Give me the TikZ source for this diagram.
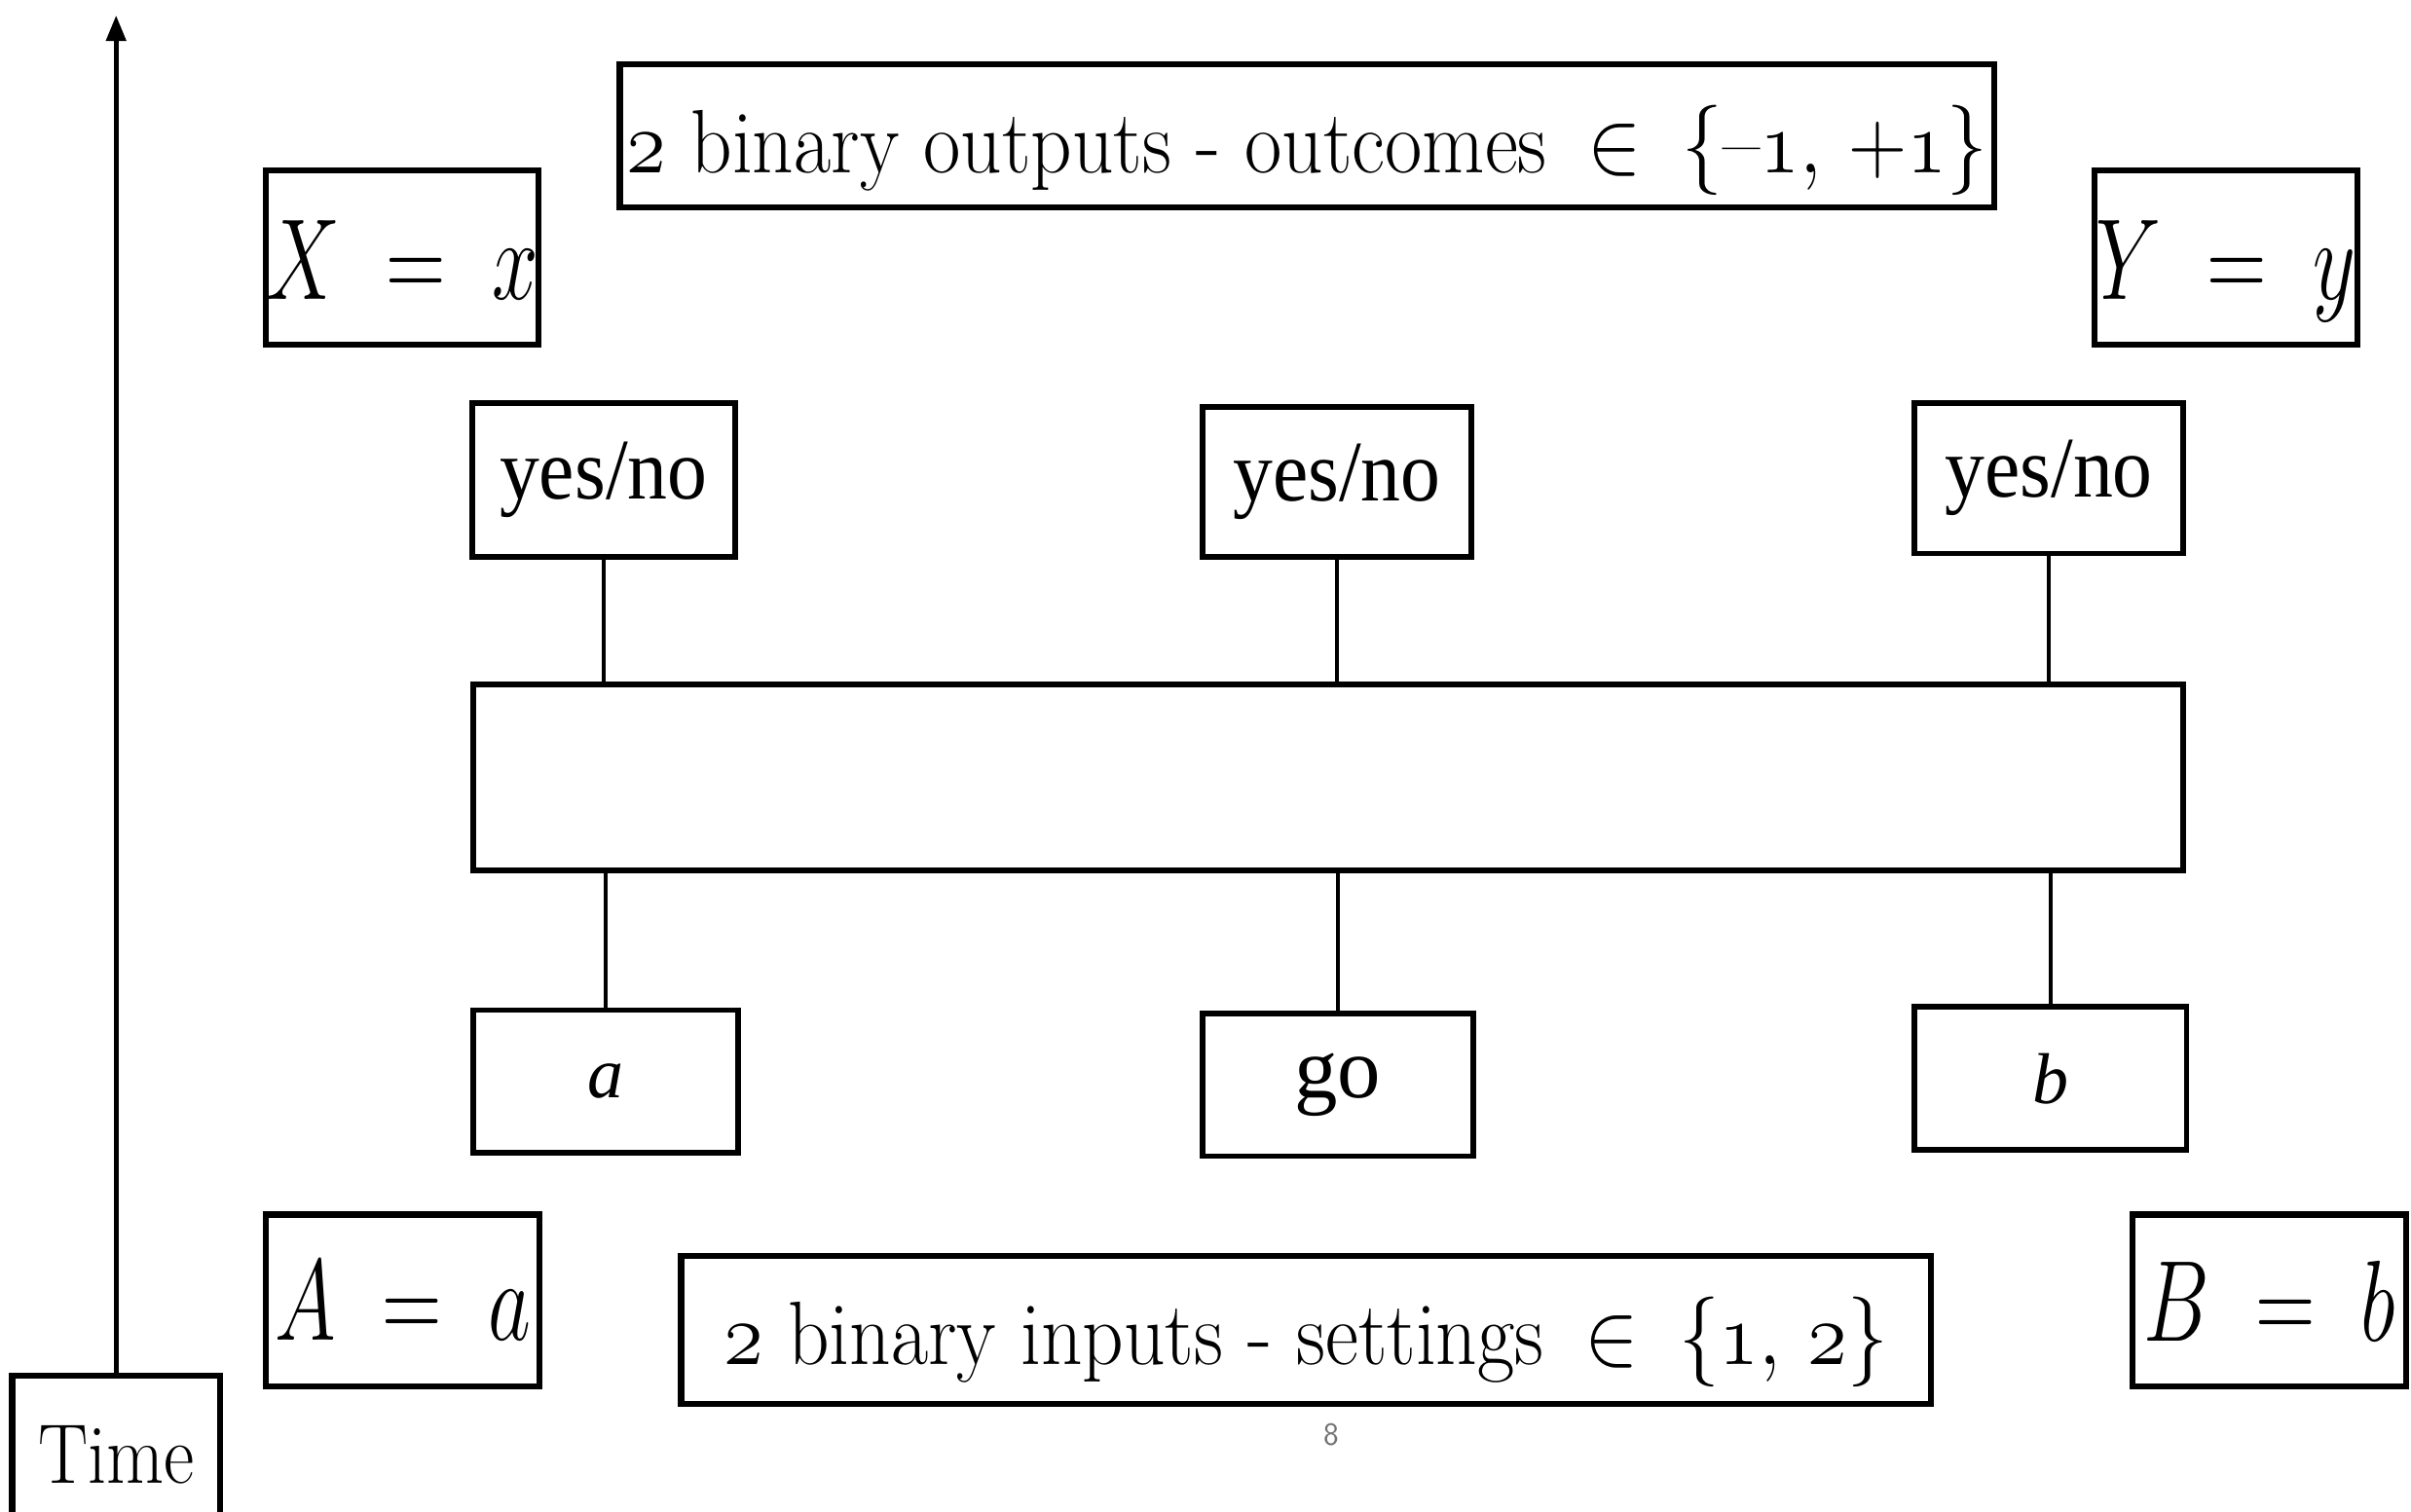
\RequirePackage{fix-cm}
\documentclass[tikz,border=0pt]{standalone}
\usepackage{amsmath}
\usepackage{graphicx}
\usepackage{fontspec}
\newfontfamily\bookfont{Liberation Serif}
\usetikzlibrary{arrows.meta}
% horizontally condensed text
\newcommand{\narrow}[2][0.85]{\scalebox{#1}[1]{#2}}
\newcommand{\osn}[1]{$\mathnormal{#1}$}

\tikzset{
  box/.style 2 args={minimum width=#1*0.3mm, minimum height=#2*0.3mm, inner sep=0pt},
  labelbox/.style={draw, line width=3.4pt, rectangle},
  scanbox/.style={draw, line width=3.2pt, rectangle, font=\bookfont\fontsize{48}{52}\selectfont},
  wire/.style={line width=2.3pt},
  timeaxis/.style={line width=2.6pt, -{Triangle[length=5mm, width=3.8mm]}},
  bigtext/.style={font=\fontsize{50}{56}\selectfont},
  eqtext/.style={font=\fontsize{64}{70}\selectfont},
}

\begin{document}
\begin{tikzpicture}[x=0.3mm, y=-0.3mm]
  \clip (0,0) rectangle (1568,983);
  \fill[white] (0,0) rectangle (1568,983);

  % outcome and setting summary labels
  \node[labelbox, box={894}{93}, bigtext, text height=60pt, text depth=19pt] (outs) at (850,88.5)
    {\narrow[0.9]{\osn{2} binary outputs - outcomes\enspace$\in$\enspace$\{\text{--}\mathnormal{1},\, +\mathnormal{1}\}$}};
  \node[labelbox, box={813}{96}, bigtext, text height=60pt, text depth=21.6pt] (ins) at (849.5,865)
    {\narrow[0.9]{\osn{2} binary inputs - settings\enspace$\in$\enspace$\{\mathnormal{1},\, \mathnormal{2}\}$}};

  % variable labels
  \node[labelbox, box={177}{113}, eqtext, text height=71pt, text depth=25pt] (X) at (261.5,167.5) {\narrow[0.72]{$X\;=\;x$}};
  \node[labelbox, box={171}{113}, eqtext, text height=71pt, text depth=25pt] (Y) at (1447.5,167.5) {\narrow[0.72]{$Y\;=\;y$}};
  \node[labelbox, box={178}{112}, eqtext] (A) at (262,846) {\narrow[0.72]{$A\;=\;a$}};
  \node[labelbox, box={178}{112}, eqtext] (B) at (1476,846) {\narrow[0.72]{$B\;=\;b$}};

  % output lamps
  \node[scanbox, box={171}{100}] (yn1) at (392.5,312) {\narrow[0.92]{yes/no}};
  \node[scanbox, box={175}{97}]  (yn2) at (869.5,313.5) {\narrow[0.92]{yes/no}};
  \node[scanbox, box={175}{98}]  (yn3) at (1332.5,311) {\narrow[0.92]{yes/no}};

  % the apparatus
  \node[scanbox, box={1112}{121}] (bus) at (864,505.5) {};

  % input switches
  \node[scanbox, box={172}{93}, font=\bookfont\fontsize{40}{44}\selectfont] (ina) at (394,703.5) {\textit{a}};
  \node[scanbox, box={176}{93}] (ingo) at (870,705.5) {go};
  \node[scanbox, box={177}{93}, font=\bookfont\fontsize{40}{44}\selectfont] (inb) at (1333.5,701.5) {\textit{b}};

  % wires
  \foreach \n in {yn1,yn2,yn3}
    \draw[wire] (\n.south) -- (\n.south |- bus.north);
  \foreach \n in {ina,ingo,inb}
    \draw[wire] (\n.north) -- (\n.north |- bus.south);

  % time axis
  \node[labelbox, box={135}{120}, font=\fontsize{47}{52}\selectfont, anchor=north,
        text height=59.5pt, text depth=42.5pt] (time) at (75.5,893) {\narrow[0.88]{Time}};
  \coordinate (tip) at (73,10);
  \draw[timeaxis] (time.north) -- (time.north |- tip);

  % page number
  \node[font=\sffamily\fontsize{18}{20}\selectfont, text=black!55] (pnum) at (866,933) {8};
\end{tikzpicture}
\end{document}
